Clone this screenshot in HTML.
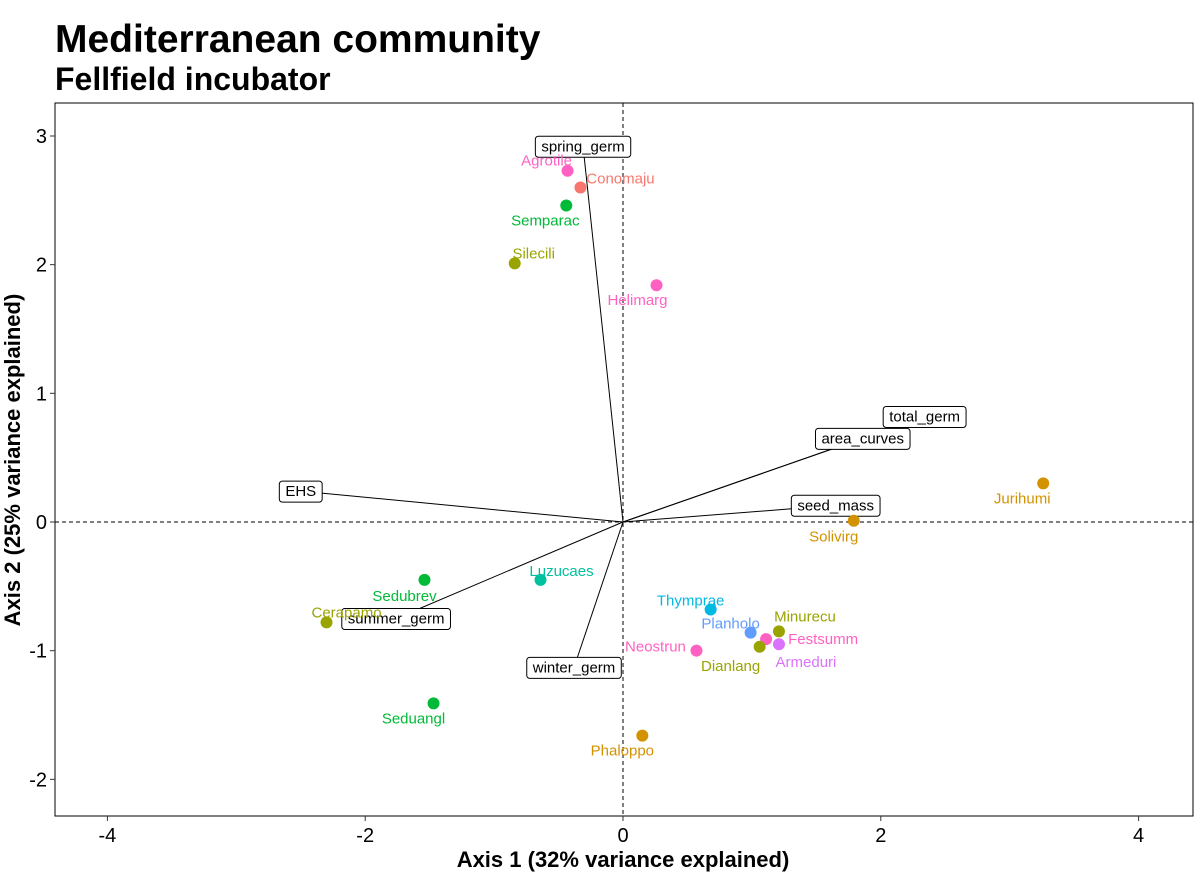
<!DOCTYPE html>
<html><head><meta charset="utf-8"><style>body{margin:0;background:#fff}svg{display:block;font-family:"Liberation Sans",sans-serif}</style></head>
<body>
<svg id="c" width="1197" height="893">
<text x="55" y="52" font-size="39" font-weight="bold">Mediterranean community</text>
<text x="55" y="90" font-size="32" font-weight="bold">Fellfield incubator</text>
<text x="623" y="867" font-size="22" font-weight="bold" text-anchor="middle">Axis 1 (32% variance explained)</text>
<text transform="translate(20,460) rotate(-90)" font-size="22" font-weight="bold" text-anchor="middle">Axis 2 (25% variance explained)</text>
<g id="g"></g>
</svg>
<script>
const xTicks=[-4,-2,0,2,4];
const yTicks=[-2,-1,0,1,2,3];
const species=["Agrotile","Conomaju","Semparac","Silecili","Helimarg","Jurihumi","Solivirg","Luzucaes","Sedubrev","Cerapamo","Seduangl","Thymprae","Planholo","Minurecu","Festsumm","Armeduri","Dianlang","Neostrun","Phaloppo"];
const spX=[-0.43,-0.33,-0.44,-0.84,0.26,3.26,1.79,-0.64,-1.54,-2.30,-1.47,0.68,0.99,1.21,1.11,1.21,1.06,0.57,0.15];
const spY=[2.73,2.60,2.46,2.01,1.84,0.30,0.01,-0.45,-0.45,-0.78,-1.41,-0.68,-0.86,-0.85,-0.91,-0.95,-0.97,-1.00,-1.66];
const spColor=["#FF61C3","#F8766D","#00BA38","#9AA400","#FF61C3","#D39200","#D39200","#00C19F","#00BA38","#9AA400","#00BA38","#00B9E3","#619CFF","#9AA400","#FF61C3","#DB72FB","#9AA400","#FF61C3","#D39200"];
const lblDx=[-21,40,-21,19,-19,-21,-20,21,-20,20,-20,-20,-20,26,57,27,-29,-41,-20];
const lblDy=[-10,-9,15,-10,15,15,16,-9,16,-10,15,-9,-9,-15,0,18,19,-4,15];
const vars=["spring_germ","total_germ","area_curves","seed_mass","EHS","summer_germ","winter_germ"];
const varX=[-0.31,2.34,1.86,1.65,-2.50,-1.76,-0.38];
const varY=[2.92,0.82,0.65,0.13,0.24,-0.75,-1.13];
const L=55,R=1193,T=103,B=816;
const sx=v=>623+v*128.9, sy=v=>522-v*128.67;
const g=document.getElementById('g');const NS="http://www.w3.org/2000/svg";
function mk(t,a,p){const e=document.createElementNS(NS,t);for(const k in a)e.setAttribute(k,a[k]);(p||g).appendChild(e);return e;}
let e=mk('rect',{x:L,y:T,width:R-L,height:B-T,fill:'none',stroke:'#000','stroke-width':1});


e=mk('line',{x1:sx(0),x2:sx(0),y1:T,y2:B,stroke:'#000','stroke-dasharray':'4,3'});


e=mk('line',{x1:L,x2:R,y1:sy(0),y2:sy(0),stroke:'#000','stroke-dasharray':'4,3'});


xTicks.forEach(v=>{mk('line',{x1:sx(v),x2:sx(v),y1:B,y2:B+5,stroke:'#333'});
 e=mk('text',{x:sx(v),y:B+26,'font-size':20,'text-anchor':'middle'});e.textContent=v;
 
 });
yTicks.forEach(v=>{mk('line',{x1:L-5,x2:L,y1:sy(v),y2:sy(v),stroke:'#333'});
 e=mk('text',{x:L-8,y:sy(v)+7,'font-size':20,'text-anchor':'end'});e.textContent=v;
 
 });
vars.forEach((n,i)=>{e=mk('line',{x1:sx(0),y1:sy(0),x2:sx(varX[i]),y2:sy(varY[i]),stroke:'#000','stroke-width':1});
 
 });
vars.forEach((n,i)=>{const cx=sx(varX[i]),cy=sy(varY[i]);
 const t=mk('text',{x:cx,y:cy+5,'font-size':15,'text-anchor':'middle'});t.textContent=n;
 const w=t.getComputedTextLength()+12;
 e=mk('rect',{x:cx-w/2,y:cy-10,width:w,height:21,rx:3,fill:'#fff',stroke:'#000'});
 g.insertBefore(e,t);
 
 
 
 });
species.forEach((n,i)=>{e=mk('circle',{cx:sx(spX[i]),cy:sy(spY[i]),r:6,fill:spColor[i]});
 
 
 e=mk('text',{x:sx(spX[i])+lblDx[i],y:sy(spY[i])+lblDy[i]+5,'font-size':15,'text-anchor':'middle',fill:spColor[i]});e.textContent=n;
 
 });
</script>
</body></html>
